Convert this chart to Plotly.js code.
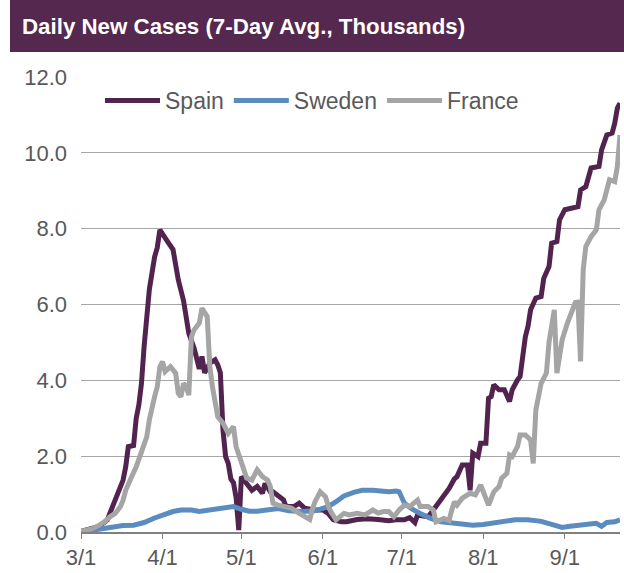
<!DOCTYPE html>
<html><head><meta charset="utf-8">
<script src="https://cdn.plot.ly/plotly-3.0.1.min.js"></script>
<style>html,body{margin:0;padding:0;background:#fff;}#chart{width:624px;height:573px;}</style>
</head><body><div id="chart"></div>
<script>
// Day offsets counted from 2020-03-01
const spainDay = [0,4,7,10,12,14,16,17,18,20,21,22,23,24,25,26,28,29,30,31,33,35,37,39,40,41,43,45,46,47,49,51,52,53,54,55,56,57,58,59,60,61,63,65,67,69,70,72,73,75,77,78,81,83,85,89,92,94,96,99,101,105,109,113,117,120,123,125,127,128,132,134,136,138,140,142,143,145,147,148,149,151,152,154,155,156,157,159,161,163,164,166,167,169,170,171,173,175,176,178,179,181,182,184,186,189,190,192,194,197,198,200,202,203,204,205];
const spainVal = [0.02,0.08,0.15,0.32,0.67,1.02,1.37,1.72,2.25,2.28,3.0,3.35,3.92,4.89,5.5,6.4,7.26,7.5,7.97,7.84,7.65,7.45,6.65,6.1,5.6,5.24,4.85,4.3,4.63,4.2,4.45,4.54,4.41,4.2,2.69,1.99,1.81,1.4,1.3,0.9,0.05,1.46,1.28,1.1,1.2,1.02,1.28,1.06,1.06,0.95,0.85,0.67,0.67,0.76,0.63,0.58,0.58,0.49,0.32,0.27,0.27,0.33,0.35,0.33,0.3,0.32,0.32,0.38,0.25,0.45,0.4,0.58,0.76,0.95,1.15,1.4,1.46,1.77,1.77,1.1,2.08,1.99,2.34,2.34,3.53,3.57,3.88,3.75,3.75,3.44,3.75,4.01,4.1,5.15,5.42,5.86,6.17,6.21,6.69,7.0,7.62,7.66,8.23,8.5,8.54,8.58,9.02,9.11,9.6,9.64,10.08,10.47,10.52,10.78,11.18,11.31];

const swedenDay = [0,5,8,12,16,20,24,28,32,35,38,42,45,49,53,56,58,61,64,67,71,75,79,84,89,92,94,97,100,104,107,111,114,117,120,121,123,126,129,133,137,141,145,149,153,157,161,165,170,175,179,181,183,186,190,196,198,200,203,205];
const swedenVal = [0.0,0.05,0.1,0.14,0.17,0.18,0.25,0.37,0.48,0.54,0.58,0.58,0.54,0.58,0.65,0.67,0.67,0.6,0.55,0.55,0.6,0.62,0.56,0.54,0.56,0.62,0.67,0.8,0.95,1.05,1.1,1.1,1.08,1.06,1.08,1.06,0.76,0.6,0.49,0.36,0.27,0.23,0.2,0.18,0.2,0.23,0.28,0.32,0.32,0.28,0.2,0.15,0.12,0.15,0.18,0.23,0.15,0.25,0.27,0.32];

const franceDay = [0,4,7,9,11,13,15,16,17,18,19,21,23,25,26,27,28,29,30,31,32,34,36,37,38,39,40,41,42,43,45,46,48,49,50,52,54,56,57,58,59,61,63,65,67,69,71,72,73,75,78,80,83,85,87,88,89,91,93,94,95,97,100,102,105,108,111,113,115,117,119,121,123,125,128,129,132,134,135,138,140,141,142,143,145,148,150,152,153,155,157,159,160,162,163,164,166,167,169,171,172,173,175,177,178,180,181,183,185,188,189,190,191,192,194,196,197,199,201,203,204,205];
const franceVal = [0.02,0.08,0.18,0.27,0.4,0.49,0.67,0.84,1.1,1.28,1.42,1.72,2.08,2.51,2.96,3.35,3.57,3.83,4.36,4.49,4.23,4.36,4.19,3.66,3.57,3.92,3.83,3.61,5.15,5.33,5.51,5.9,5.68,4.36,3.83,3.04,2.87,2.6,2.69,2.78,2.25,1.81,1.42,1.37,1.64,1.46,1.37,1.2,0.76,0.71,0.67,0.63,0.49,0.4,0.33,0.6,0.8,1.06,0.93,0.7,0.54,0.32,0.49,0.45,0.49,0.45,0.58,0.5,0.54,0.54,0.4,0.58,0.71,0.67,0.84,0.67,0.67,0.58,0.27,0.36,0.3,0.58,0.8,0.71,0.89,1.02,0.98,1.24,1.06,0.71,1.06,1.2,1.42,1.55,2.03,1.99,2.25,2.56,2.56,2.43,1.81,3.22,3.92,4.19,5.0,5.86,4.19,5.07,5.51,6.05,6.06,4.5,6.91,7.53,7.79,7.97,8.5,8.76,9.29,9.24,9.64,10.47];

const tickDates = ['2020-03-01','2020-04-01','2020-05-01','2020-06-01','2020-07-01','2020-08-01','2020-09-01'];
const tickLabels = ['3/1','4/1','5/1','6/1','7/1','8/1','9/1'];
const seriesNames = ['Spain','Sweden','France'];
const seriesColors = ['#52234f','#5b8cbf','#a5a5a5'];
const chartTitle = 'Daily New Cases (7-Day Avg., Thousands)';
const lastDay = 205;

function dayToDate(d){
  const t = Date.UTC(2020,2,1) + d*86400000;
  return new Date(t).toISOString().slice(0,10);
}

const days = [spainDay, swedenDay, franceDay];
const vals = [spainVal, swedenVal, franceVal];
const traces = seriesNames.map((n,i)=>({
  type:'scatter', mode:'lines', name:n,
  x: days[i].map(dayToDate), y: vals[i],
  line:{color:seriesColors[i], width:5}
}));

const W=624,H=573,L=81,R=4,T=77,B=41;
const pw=W-L-R, ph=H-T-B;
const px=v=>(v-L)/pw, py=v=>(H-B-v)/ph;

const layout = {
  width:W, height:H,
  margin:{l:L,r:R,t:T,b:B},
  paper_bgcolor:'#fff', plot_bgcolor:'#fff',
  font:{family:'Liberation Sans, Arial, sans-serif', color:'#595959'},
  title:{text:'<b>'+chartTitle+'</b>', font:{size:22.3,color:'#ffffff'}, xref:'container', yref:'container', x:22/W, xanchor:'left', y:1-26/H, yanchor:'middle'},
  shapes:[{type:'rect', xref:'paper', yref:'paper', x0:px(10), x1:px(624), y0:py(52), y1:py(0), fillcolor:'#54284f', line:{width:0}, layer:'below'}],
  xaxis:{type:'date', range:[dayToDate(0), dayToDate(lastDay)], tickvals:tickDates, ticktext:tickLabels,
    showline:true, linecolor:'#808080', linewidth:2, ticks:'outside', ticklen:5, tickcolor:'#808080', tickwidth:1,
    showgrid:false, zeroline:false, tickfont:{size:22,color:'#595959'}, fixedrange:true},
  yaxis:{range:[0,12], dtick:2, tick0:0, tickformat:'.1f', gridcolor:'#a6a6a6', gridwidth:1, zeroline:false, showline:false,
    ticks:'', tickfont:{size:22,color:'#595959'}, ticklabelstandoff:13, fixedrange:true},
  showlegend:true,
  legend:{orientation:'h', x:px(100), xanchor:'left', y:py(79), yanchor:'top', font:{size:23,color:'#595959'}, bgcolor:'rgba(0,0,0,0)', itemwidth:55, traceorder:'normal'}
};

Plotly.newPlot('chart', traces, layout, {displayModeBar:false, staticPlot:true});
</script>
</body></html>
